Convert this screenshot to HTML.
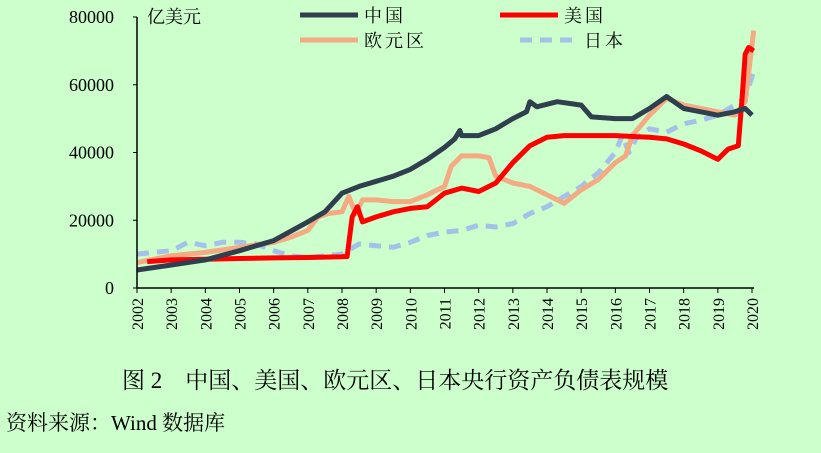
<!DOCTYPE html>
<html><head><meta charset="utf-8"><style>
body{margin:0;background:#ccffcc;}
svg{display:block;font-family:"Liberation Serif","Noto Serif CJK SC",serif;}
</style></head><body>
<svg width="821" height="453" id="c">
<rect width="821" height="453" fill="#ccffcc"/>
<text x="122" y="388" font-size="23" font-family="'Liberation Serif','Noto Serif CJK SC',serif">图 2　中国、美国、欧元区、日本央行资产负债表规模</text>
<text x="6" y="430" font-size="21">资料来源：Wind 数据库</text>
<text x="147" y="23" font-size="18">亿美元</text>
</svg>
<script>
const years=[2002,2003,2004,2005,2006,2007,2008,2009,2010,2011,2012,2013,2014,2015,2016,2017,2018,2019,2020];
const yTicks=[0,20000,40000,60000,80000];
const chinaT=[2002,2003,2004,2005,2006,2007,2007.5,2008,2008.5,2009,2009.5,2010,2010.5,2011,2011.3,2011.45,2011.5,2012,2012.5,2013,2013.4,2013.5,2013.7,2014.3,2015,2015.3,2016,2016.5,2017,2017.5,2018,2018.5,2019,2019.5,2019.8,2020];
const chinaV=[5300,6800,8300,11000,14000,19500,22500,28000,30000,31500,33000,35000,38000,41500,44000,46500,45000,45000,47000,50000,52000,55000,53500,55000,54000,50500,50000,50000,53000,56500,53000,52000,51000,52000,53000,51000];
const usT=[2002.3,2003,2004,2005,2006,2007,2008,2008.15,2008.3,2008.45,2008.6,2009,2009.5,2010,2010.5,2011,2011.5,2012,2012.5,2013,2013.5,2014,2014.5,2015,2016,2017,2017.5,2018,2018.5,2019,2019.3,2019.6,2019.7,2019.8,2019.9,2020.05];
const usV=[7800,8300,8500,8700,8900,9000,9200,9300,21000,24000,19500,21000,22500,23500,24000,28000,29500,28500,31000,37000,42000,44500,45000,45000,45000,44500,44000,42500,40500,38000,41000,42000,55000,69000,71000,70000];
const euT=[2002,2003,2004,2005,2006,2006.5,2007,2007.3,2007.6,2008,2008.2,2008.4,2008.6,2009,2009.5,2010,2010.5,2011,2011.2,2011.5,2012,2012.3,2012.5,2013,2013.5,2014,2014.5,2015,2015.5,2016,2016.3,2016.5,2017,2017.5,2018,2018.5,2019,2019.5,2019.8,2020.05];
const euV=[7500,9500,10500,12000,13500,15000,17000,21000,22000,22500,27000,22000,26000,26000,25500,25500,27500,30000,36000,39000,39000,38500,33000,31000,30000,27500,25000,29000,32000,37000,39000,45000,51000,56000,54000,53000,52000,51000,55000,76000];
const jpT=[2002,2002.5,2003,2003.5,2004,2004.5,2005,2005.5,2006,2006.5,2007,2007.5,2008,2008.5,2009,2009.5,2010,2010.5,2011,2011.5,2012,2012.5,2013,2013.5,2014,2014.5,2015,2015.5,2016,2016.2,2016.4,2016.6,2017,2017.5,2018,2018.5,2019,2019.5,2019.8,2020.05];
const jpV=[10000,10500,11000,13500,12500,13500,13500,13000,11000,9500,9000,9500,10000,13000,12500,12000,13500,15500,16500,17000,18500,18000,19000,22000,24000,27000,30000,34000,40000,45000,40000,44000,47000,46000,48500,49500,51000,54000,56000,64000];
const svg=document.getElementById('c');const NS='http://www.w3.org/2000/svg';
const X0=137,X1=752,Y0=288,Y1=17;
const xs=t=>X0+(t-2002)/(2020-2002)*(X1-X0);
const ys=v=>Y0-v/80000*(Y0-Y1);
function mk(tag,a){const e=document.createElementNS(NS,tag);for(const k in a)e.setAttribute(k,a[k]);svg.appendChild(e);return e;}
function line(T,V,color,w,dash,name){const p=mk('path',{d:T.map((t,i)=>(i?'L':'M')+xs(t).toFixed(1)+','+ys(V[i]).toFixed(1)).join(''),fill:'none',stroke:color,'stroke-width':w,'stroke-linejoin':'round','stroke-dasharray':dash||'none'});

}
line(jpT,jpV,'#a4c2e8',5,'12,8','japan-line');
line(euT,euV,'#f4aa82',5,'','eurozone-line');
line(usT,usV,'#ff0000',5,'','usa-line');
line(chinaT,chinaV,'#2f3f4d',5,'','china-line');
const ax=mk('path',{d:`M${X0},${Y1}V${Y0}H${X1+2}`,stroke:'#000','stroke-width':1.5,fill:'none'});


yTicks.forEach(v=>{const t=mk('line',{x1:X0-4,x2:X0,y1:ys(v),y2:ys(v),stroke:'#000'});


const l=mk('text',{x:114,y:ys(v)+6,'text-anchor':'end','font-size':18});l.textContent=v;

});
years.forEach(yr=>{const x=xs(yr);const t=mk('line',{x1:x,x2:x,y1:Y0,y2:Y0+5,stroke:'#000'});


const l=mk('text',{x:0,y:0,'text-anchor':'end','font-size':16,transform:`translate(${x+6},${Y0+10}) rotate(-90)`});l.textContent=yr;

});
const leg=[['中国','#2f3f4d','',300,15],['美国','#ff0000','',500,15],['欧元区','#f4aa82','',300,40],['日本','#a4c2e8','12,8',520,40]];
leg.forEach(([n,c,d,x,y])=>{const l=mk('line',{x1:x,x2:x+58,y1:y,y2:y,stroke:c,'stroke-width':5,'stroke-dasharray':d||'none'});


const t=mk('text',{x:x+64,y:y+7,'font-size':18,'letter-spacing':'3'});t.textContent=n;

});
</script>
</body></html>
